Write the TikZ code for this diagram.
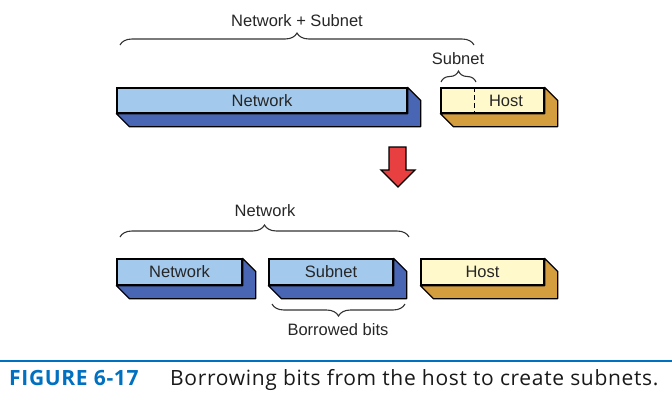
\documentclass[tikz,border=0pt]{standalone}
\usepackage{fontspec}
\setmainfont{Liberation Sans}
\newfontfamily\capfont[LetterSpace=3.2]{Open Sans}
\usetikzlibrary{calc}
\usetikzlibrary{decorations.pathreplacing}
\definecolor{netfront}{RGB}{163,201,236}
\definecolor{netside}{RGB}{72,102,180}
\definecolor{hostfront}{RGB}{255,249,204}
\definecolor{hostside}{RGB}{212,157,62}
\definecolor{arrowred}{RGB}{232,64,64}
\definecolor{capblue}{RGB}{0,112,192}
\tikzset{lbl/.style={font=\fontsize{16.5}{18}\selectfont, text=black!85},
 field/.style={draw=black, line width=1.3pt, minimum height=25pt, inner sep=0pt, lbl},
 netbox/.style={field, fill=netfront},
 hostbox/.style={field, fill=hostfront},
 brc/.style={decorate, decoration={brace, amplitude=12pt}, line width=1.1pt, black!80},
 captext/.style={anchor=base west, inner sep=0pt},
 }

\begin{document}
\begin{tikzpicture}[x=1pt, y=-1pt]
        \useasboundingbox (0,0) rectangle (672,400);
        % before: network + host
        \node[netbox, minimum width=290pt] (net) at (262,100.5) {Network};
        \node[hostbox, minimum width=103pt] (host) at (492.5,100.5) {};
        \node[lbl] (hostlbl) at (506,100.5) {Host};

        % after: network, subnet, host
        \node[netbox, minimum width=125pt, minimum height=26pt] (net2) at (179.5,272) {Network};
        \node[netbox, minimum width=124pt, minimum height=26pt] (sub2) at (331,272) {Subnet};
        \node[hostbox, minimum width=123pt, minimum height=26pt] (host2) at (482.5,272) {Host};

        \foreach \n/\c in {net/netside, host/hostside, net2/netside, sub2/netside, host2/hostside} {
            \filldraw[fill=\c, line width=1.3pt, line join=round] (\n.south west) -- ++(13,13)
                -- ($(\n.south east)+(13,13)$) -- ($(\n.north east)+(13,13)$)
                -- (\n.north east) -- (\n.south east) -- cycle;
        }
        \draw[line width=1.3pt, dash pattern=on 5pt off 3pt]
            ($(host.north west)+(34,0)$) -- ($(host.south west)+(34,0)$);

        % braces
        \coordinate (nsL) at (120,45);
        \coordinate (nsR) at (474,45);
        \coordinate (snL) at (441,82);
        \coordinate (snR) at (476,82);
        \coordinate (nwL) at (120,237);
        \coordinate (nwR) at (409,237);
        \coordinate (bbL) at (272,304);
        \coordinate (bbR) at (405,304);
        \draw[brc] (nsL) -- (nsR);
        \draw[brc, decoration={amplitude=11pt}] (snL) -- (snR);
        \draw[brc] (nwL) -- (nwR);
        \draw[brc] (bbR) -- (bbL);
        \node[lbl] (nslbl) at (297,21) {Network + Subnet};
        \node[lbl] (snlbl) at (458,59) {Subnet};
        \node[lbl] (nwlbl) at (265,211) {Network};
        \node[lbl] (bblbl) at (338,330) {Borrowed bits};

        % red arrow
        \filldraw[fill=arrowred, line width=1.3pt, line join=miter]
            (389,147) -- (406,147) -- (406,170) -- (415,170) -- (398,187)
            -- (381,170) -- (389,170) -- cycle;

        % caption
        \draw[capblue, line width=2pt] (0,361) -- (672,361);
        \node[captext, font=\capfont\bfseries\fontsize{21}{24}\selectfont, text=capblue] (fig) at (9,385) {FIGURE 6-17};
        \node[captext, font=\capfont\fontsize{21}{24}\selectfont, text=black!90] (captxt) at (170,385) {Borrowing bits from the host to create subnets.};
    \end{tikzpicture}
\end{document}
